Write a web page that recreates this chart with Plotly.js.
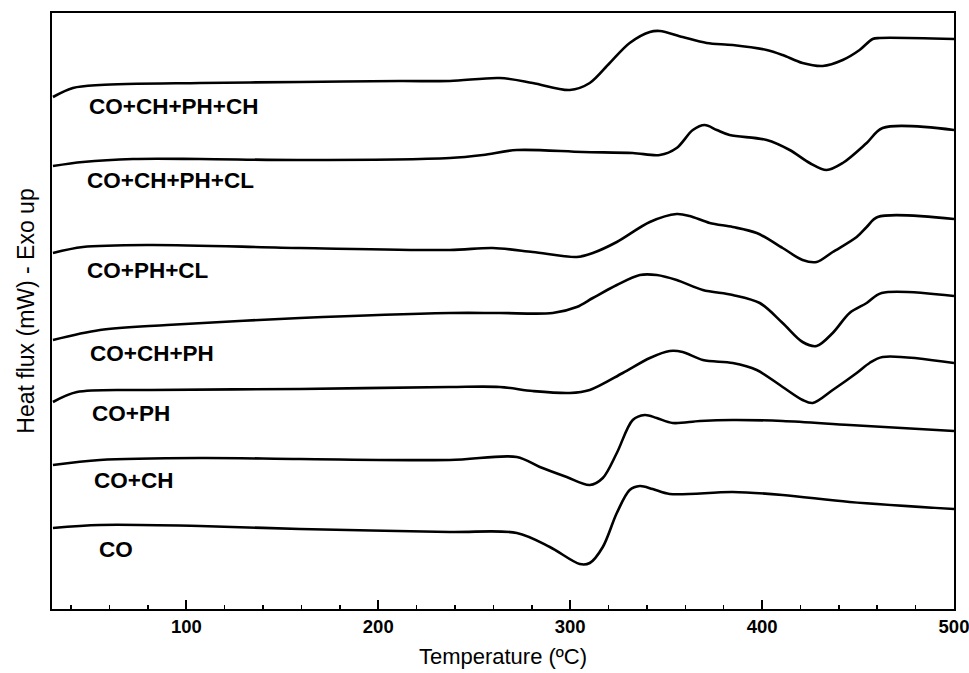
<!DOCTYPE html>
<html>
<head>
<meta charset="utf-8">
<script src="https://cdn.plot.ly/plotly-3.0.1.min.js"></script>
<style>html,body{margin:0;padding:0;background:#fff;}#chart{width:969px;height:673px;}</style>
</head>
<body>
<div id="chart"></div>
<script>
// Series: temperature (ºC) and stacked heat flux (arbitrary offset units)
const coChPhChT = [30.5,40.9,55.0,107.1,159.2,211.3,237.3,263.3,280.5,299.8,310.2,320.6,331.0,341.5,346.7,358.6,371.1,384.7,402.4,410.7,421.1,431.6,442.0,450.8,457.6,461.3,500];
const coChPhChY = [512,521,524,526,527,528,528,531,526,519,526,546,566,577,578,572,566,564,559,554,546,543,549,559,570,571,570];

const coChPhClT = [30.5,46.1,72.2,107.1,159.2,237.3,254.5,272.2,306.6,332.6,346.7,355.5,363.9,370.1,376.4,383.1,402.4,414.4,424.8,433.6,442.0,454.5,462.8,500];
const coChPhClY = [443,447,450,450,449,451,454,459,457,456,454,461,479,484,479,474,469,459,446,439,446,466,481,479];

const coPhClT = [30.5,46.1,81.0,159.2,237.3,259.7,280.5,303.4,311.8,324.3,341.5,355.5,362.3,372.7,384.7,397.2,410.7,421.1,428.4,436.8,449.3,454.5,460.2,500];
const coPhClY = [356,362,364,361,359,361,357,352,356,367,387,395,393,386,382,376,361,349,347,357,372,382,392,390];

const coChPhT = [30.5,55.0,89.9,159.2,237.3,263.3,290.9,303.4,311.8,324.3,336.3,345.1,355.5,369.1,384.7,398.8,410.7,421.1,428.4,436.8,445.6,454.5,462.3,500];
const coChPhY = [269,279,284,291,296,296,296,302,311,324,334,334,329,319,314,306,286,267,263,276,296,306,316,313];

const coPhT = [30.5,43.0,81.0,159.2,237.3,263.3,280.5,299.8,310.2,327.4,341.5,351.9,358.6,369.1,384.7,397.2,410.7,421.1,426.4,436.8,449.3,456.0,462.8,500];
const coPhY = [207,217,219,220,222,222,218,216,219,236,251,258,257,249,246,239,222,209,206,219,236,246,252,246];

const coChT = [30.5,55.0,107.1,159.2,237.3,272.2,284.2,298.2,310.2,317.0,324.3,332.6,338.9,345.1,353.4,367.5,384.7,410.7,445.6,500];
const coChY = [144,149,151,150,149,152,142,132,124,131,156,189,194,191,186,188,189,188,184,178];

const coT = [30.5,55.0,107.1,159.2,237.3,272.2,289.4,305.0,310.2,317.0,324.3,331.0,336.3,343.0,351.9,384.7,410.7,445.6,500];
const coY = [81,84,83,80,77,76,62,45,46,62,96,119,123,120,115,117,114,107,100];

const seriesNames = ['CO+CH+PH+CH','CO+CH+PH+CL','CO+PH+CL','CO+CH+PH','CO+PH','CO+CH','CO'];
const tickValues = [100,200,300,400,500];
const tickLabels = ['100','200','300','400','500'];

const xs = [coChPhChT, coChPhClT, coPhClT, coChPhT, coPhT, coChT, coT];
const ys = [coChPhChY, coChPhClY, coPhClY, coChPhY, coPhY, coChY, coY];

const traces = xs.map((x, i) => ({
  x: x, y: ys[i], name: seriesNames[i], type: 'scatter', mode: 'lines',
  line: {color: '#000', width: 2.6, shape: 'spline', smoothing: 0.9},
  hoverinfo: 'skip'
}));

const labelPos = [[48.0,503],[47.0,429],[47.0,339],[48.6,256],[49.6,196],[50.6,129],[53.2,60]];
const annotations = seriesNames.map((n, i) => ({
  text: n, x: labelPos[i][0], y: labelPos[i][1], xref: 'x', yref: 'y',
  xanchor: 'left', yanchor: 'middle', showarrow: false,
  font: {family: 'Liberation Sans, Arial, sans-serif', size: 22.5, color: '#000', weight: 'bold'}
}));

const layout = {
  width: 969, height: 673,
  margin: {l: 52, r: 15, t: 13, b: 64},
  paper_bgcolor: '#fff', plot_bgcolor: '#fff',
  showlegend: false,
  font: {family: 'Liberation Sans, Arial, sans-serif', color: '#000'},
  xaxis: {
    range: [30, 500], showgrid: false, zeroline: false,
    showline: true, linecolor: '#000', linewidth: 2, mirror: true,
    ticks: 'inside', ticklen: 9, tickwidth: 2, tickcolor: '#000',
    tickvals: tickValues, ticktext: tickLabels,
    ticklabeloverflow: 'allow',
    tickfont: {size: 18.5, weight: 'bold', color: '#000'},
    minor: {ticks: 'inside', ticklen: 4, tickwidth: 1.5, tickcolor: '#000', dtick: 20, tick0: 0, showgrid: false},
    title: {text: 'Temperature (ºC)', font: {size: 22, color: '#000'}, standoff: 12}
  },
  yaxis: {
    range: [0, 596], showgrid: false, zeroline: false,
    showline: true, linecolor: '#000', linewidth: 2, mirror: true,
    ticks: '', showticklabels: false,
    title: {text: 'Heat flux (mW) - Exo up', font: {size: 23, color: '#000'}, standoff: 9}
  },
  annotations: annotations
};

Plotly.newPlot('chart', traces, layout, {staticPlot: true, displayModeBar: false});
</script>
</body>
</html>
